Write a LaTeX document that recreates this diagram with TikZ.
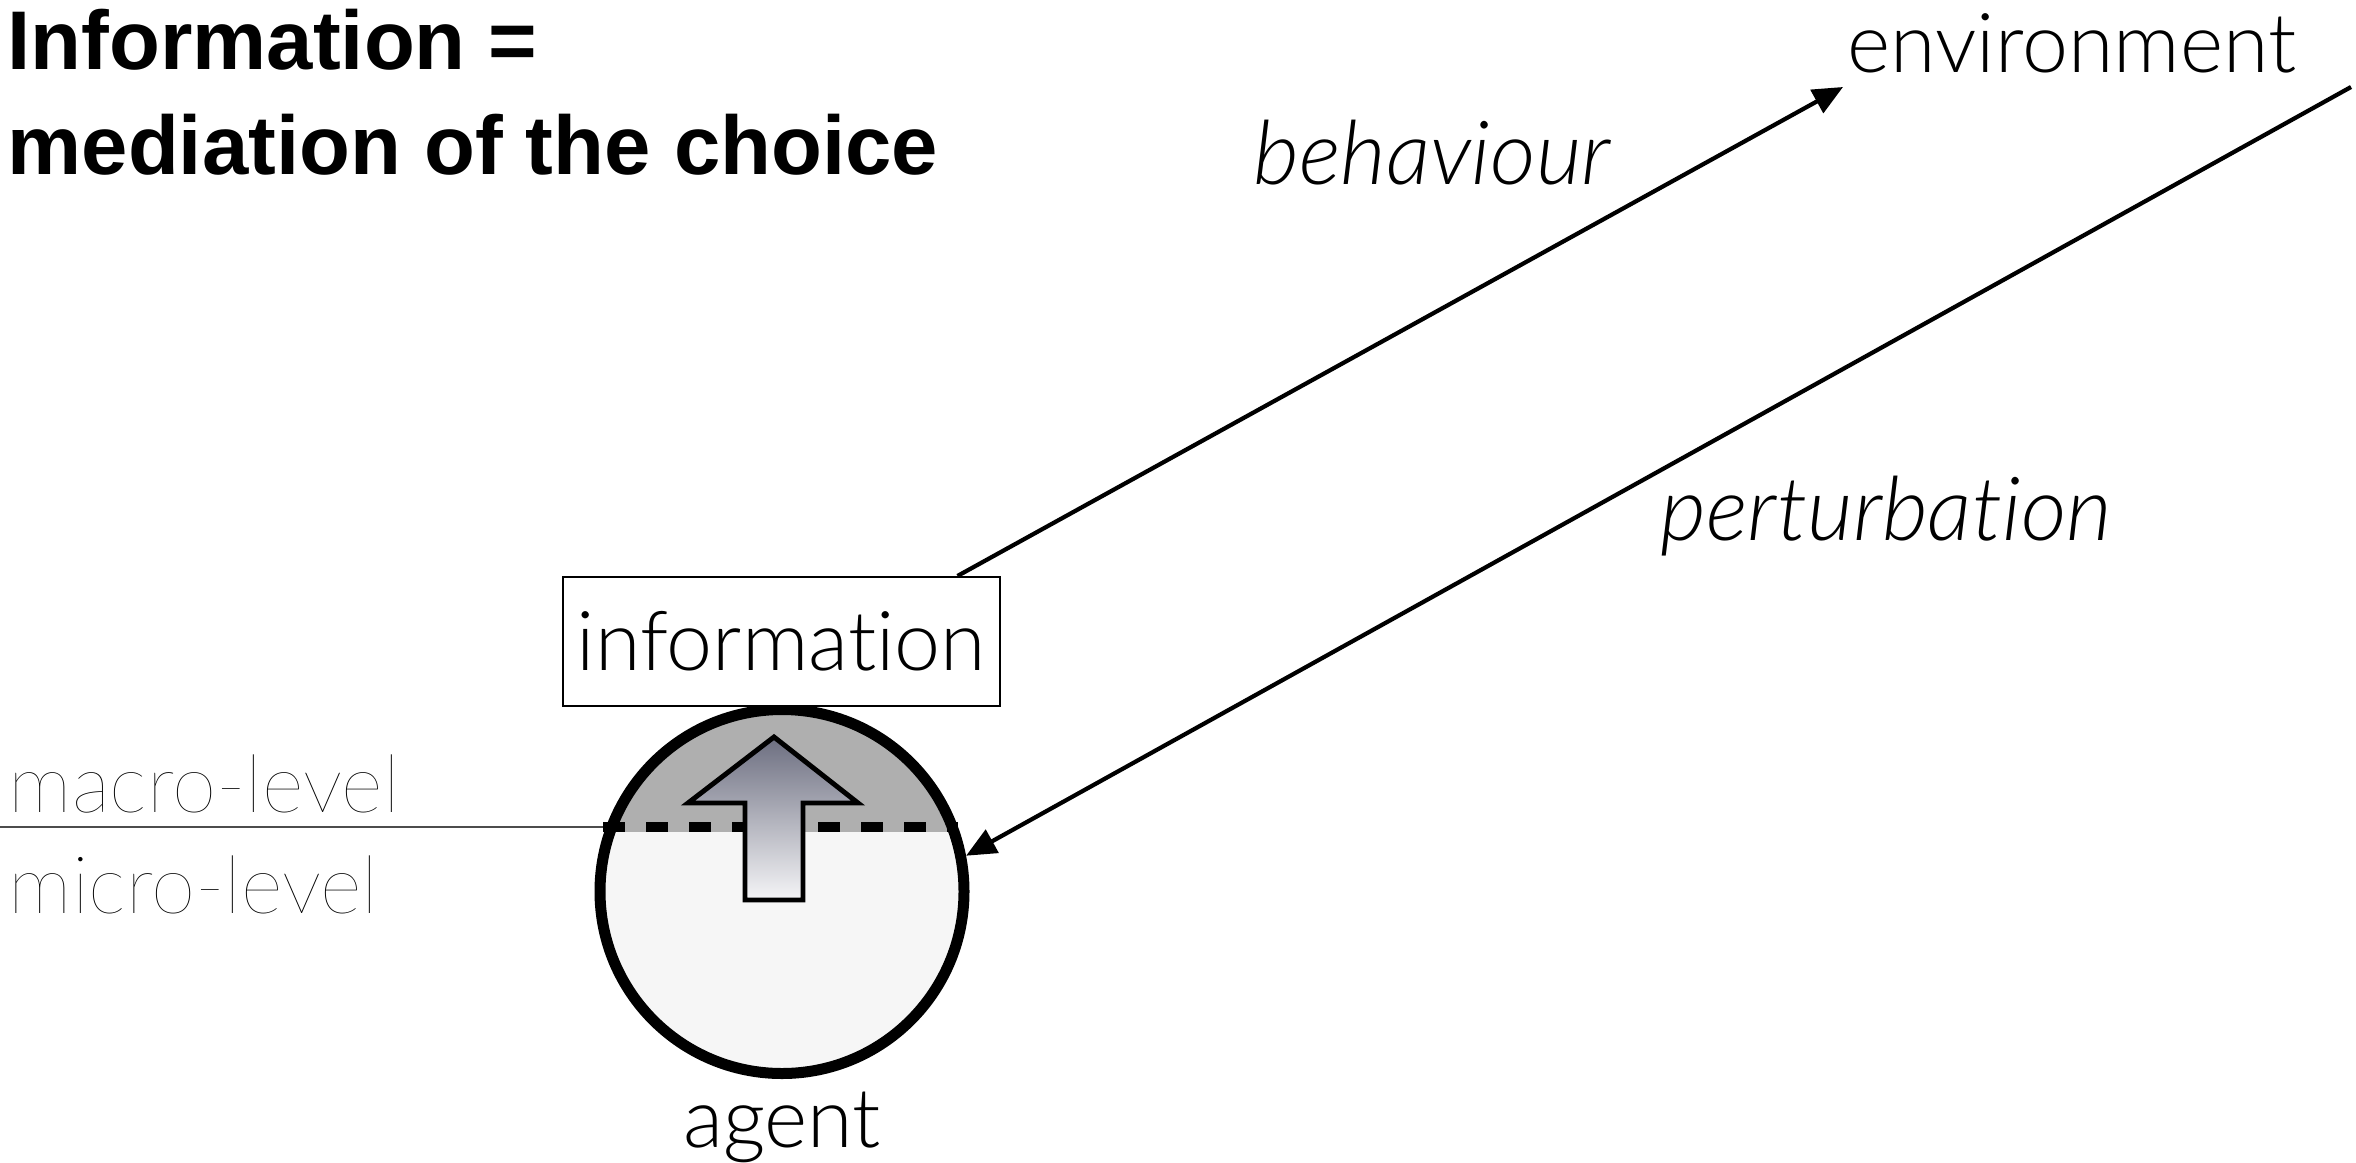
\documentclass[tikz,border=0pt]{standalone}
\usepackage{fontspec}
\setmainfont{Liberation Sans}
\newfontfamily\lightfont{Lato Light}[Ligatures=NoCommon, ItalicFont={Lato Light Italic}]
\newfontfamily\hairfont{Lato Thin}[Ligatures=NoCommon]
\usetikzlibrary{arrows.meta}

\definecolor{macrogray}{RGB}{175,175,175}
\definecolor{microgray}{RGB}{246,246,246}
\definecolor{risetop}{RGB}{108,110,128}
\definecolor{risebot}{RGB}{245,245,247}

\tikzset{
  title/.style={font=\bfseries\fontsize{23.7}{29.9}\selectfont, align=left, inner sep=0pt},
  lbl/.style={font=\lightfont\fontsize{23.5}{28}\selectfont, inner sep=0pt},
  lblit/.style={font=\lightfont\itshape\fontsize{25.2}{30}\selectfont, inner sep=0pt},
  lvl/.style={font=\hairfont\fontsize{22.8}{27}\selectfont, inner sep=0pt, anchor=base west},
  flow/.style={line width=1.2pt, -{Triangle[length=0.3cm,width=0.26cm]}},
  levelline/.style={line width=0.6pt, black!70},
  uparrow/.style={line width=1.4pt, line join=miter, top color=risetop, bottom color=risebot},
}

\begin{document}
\begin{tikzpicture}
\useasboundingbox (0,0) rectangle (23.56,11.62);

\node[title, anchor=north west] (head) at (0.07,11.54) {Information =\\mediation of the choice};

% the two levels of the agent
\coordinate (c) at (7.82,2.705);
\begin{scope}
\clip (c) circle (1.82);
\fill[microgray] (5.9,0.8) rectangle (9.7,3.30);
\fill[macrogray] (5.9,3.30) rectangle (9.7,4.6);
\end{scope}
\draw[levelline] (0,3.35) -- (6.05,3.35);
\draw[line width=0.1cm, dash pattern=on 0.22cm off 0.21cm] (6.03,3.35) -- (9.58,3.35);
\node[lvl] (macro) at (0.08,3.50) {macro-level};
\node[lvl] (micro) at (0.08,2.49) {micro-level};

% emergence arrow
\draw[uparrow] (7.74,4.25) -- (8.58,3.59) -- (8.03,3.59) -- (8.03,2.62) -- (7.45,2.62) -- (7.45,3.59) -- (6.88,3.59) -- cycle;

\node[circle, draw, line width=0.11cm, minimum size=3.64cm] (cell) at (c) {};
\node[lbl, anchor=base] (agt) at (7.82,0.15) {agent};
\node[lbl, draw, line width=0.6pt, fill=white, minimum width=4.37cm, minimum height=1.29cm] (info) at (7.815,5.205) {information};

\node[lbl, anchor=base west] (env) at (18.47,10.90) {environment};
\node[lblit, anchor=base west] (beh) at (12.53,9.78) {behaviour};
\node[lblit, anchor=base west] (pert) at (16.60,6.22) {perturbation};

\coordinate (out) at ([xshift=1.76cm]info.north);
\coordinate (in) at (23.51,10.75);
\draw[flow] (out) -- ([shift={(-0.04,-0.15)}]env.base west);
\draw[flow] (in) -- (cell.11);

\end{tikzpicture}
\end{document}
